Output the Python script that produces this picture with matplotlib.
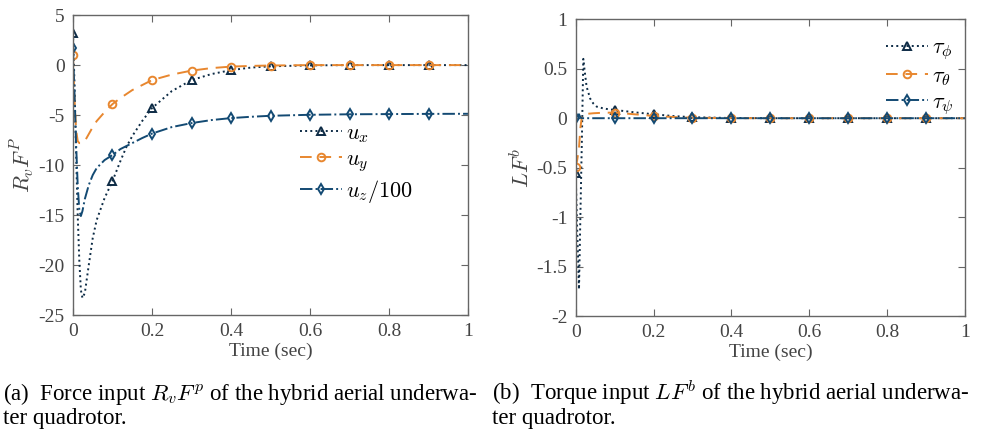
import matplotlib
matplotlib.use("Agg")
import matplotlib.pyplot as plt

plt.rcParams['font.family'] = ['Liberation Serif', 'DejaVu Serif']
plt.rcParams['mathtext.fontset'] = 'cm'
plt.rcParams['axes.unicode_minus'] = False

# (a) force input, time grid and series
t_f = [0, 0.004, 0.008, 0.012, 0.016, 0.02, 0.024, 0.03, 0.04, 0.05, 0.06, 0.08, 0.1,
       0.12, 0.135, 0.15, 0.175, 0.2, 0.25, 0.3, 0.35, 0.4, 0.45, 0.5, 0.6, 0.7, 0.8, 0.9, 1.0]
u_x = [3.2, -2.0, -9.0, -15.0, -19.5, -22.5, -23.3, -22.8, -20.0, -17.3, -15.5, -13.3, -11.6,
       -9.6, -8.2, -7.1, -5.6, -4.3, -2.6, -1.5, -0.9, -0.5, -0.25, -0.12, -0.03, 0, 0, 0, 0]
u_y = [1.0, -3.5, -6.5, -7.6, -7.8, -7.8, -7.8, -7.6, -6.9, -6.2, -5.6, -4.7, -3.9,
       -3.3, -2.9, -2.5, -2.0, -1.5, -0.95, -0.55, -0.3, -0.15, -0.08, -0.04, 0, 0, 0, 0, 0]
u_z = [1.7, -3.0, -8.0, -12.0, -14.5, -15.1, -14.6, -13.4, -12.0, -11.0, -10.3, -9.5, -9.0,
       -8.4, -8.1, -7.8, -7.3, -6.85, -6.2, -5.8, -5.5, -5.3, -5.17, -5.07, -4.97, -4.92, -4.9, -4.88, -4.87]

# (b) torque input
t_b = [0, 0.004, 0.0085, 0.012, 0.016, 0.0196, 0.023, 0.028, 0.037, 0.045, 0.054, 0.07, 0.085,
       0.1, 0.15, 0.2, 0.25, 0.3, 0.4, 0.5, 0.6, 0.7, 0.8, 0.9, 1.0]
tau_phi = [-0.555, -1.15, -1.73, -1.0, -0.2, 0.6, 0.48, 0.32, 0.2, 0.15, 0.117, 0.1, 0.09,
           0.084, 0.06, 0.04, 0.022, 0.01, 0.002, 0, 0, 0, 0, 0, 0]
tau_theta = [-0.49, -0.42, -0.3, -0.1, 0.02, 0.04, 0.042, 0.044, 0.047, 0.05, 0.052, 0.055, 0.056,
             0.057, 0.04, 0.023, 0.012, 0.005, 0.001, 0, 0, 0, 0, 0, 0]
tau_psi = [0, 0.02, 0.04, 0.01, 0, 0, 0, 0, 0, 0, 0, 0, 0,
           0, 0, 0, 0, 0, 0, 0, 0, 0, 0, 0, 0]

mark_t = [0, 0.1, 0.2, 0.3, 0.4, 0.5, 0.6, 0.7, 0.8, 0.9]

cap_a = ['(a)  Force input $R_vF^p$ of the hybrid aerial underwa-', 'ter quadrotor.']
cap_b = ['(b)  Torque input $LF^b$ of the hybrid aerial underwa-', 'ter quadrotor.']

navy = '#0d2b45'
orange = '#e8872f'
blue = '#134a73'
gray = '#444444'


def marks(t):
    return [i for i, v in enumerate(t) if any(abs(v - m) < 1e-9 for m in mark_t)]


def style_ax(ax):
    for s in ax.spines.values():
        s.set_color('#666666')
        s.set_linewidth(1.0)
    ax.tick_params(direction='in', top=True, right=True, colors='#666666',
                   labelcolor=gray, labelsize=14, length=5, pad=6)
    ax.set_xlim(0, 1)
    ax.set_xticks([0, 0.2, 0.4, 0.6, 0.8, 1])
    ax.set_xticklabels(['0', '0.2', '0.4', '0.6', '0.8', '1'])
    ax.set_xlabel('Time (sec)', fontsize=14, color=gray, labelpad=2)


fig = plt.figure(figsize=(9.9, 4.32), dpi=100)
ax1 = fig.add_axes([0.0737, 0.2708, 0.3993, 0.6942])
ax2 = fig.add_axes([0.5815, 0.2685, 0.3932, 0.6868])

mk = dict(markersize=5.5, markerfacecolor='none', markeredgewidth=1.4)
leg = dict(frameon=False, fontsize=16, handlelength=1.9, handletextpad=0.15,
           labelspacing=0.2, borderpad=0.2)
m1 = marks(t_f)
ax1.plot(t_f, u_x, ':', color=navy, lw=1.4, marker='^', markevery=m1, label='$u_x$', **mk)
ax1.plot(t_f, u_y, '--', color=orange, lw=1.4, marker='o', markevery=m1, label='$u_y$',
         dashes=(6, 4), **mk)
ax1.plot(t_f, u_z, '-.', color=blue, lw=1.4, marker='d', markevery=m1, label='$u_z/100$', **mk)
style_ax(ax1)
ax1.set_ylim(-25, 5)
ax1.set_yticks([-25, -20, -15, -10, -5, 0, 5])
ax1.set_ylabel('$R_vF^P$', fontsize=16, color=gray, labelpad=2)
ax1.legend(loc='upper left', bbox_to_anchor=(0.535, 0.69), **leg)

m2 = marks(t_b)
ax2.plot(t_b, tau_phi, ':', color=navy, lw=1.4, marker='^', markevery=m2, label=r'$\tau_\phi$', **mk)
ax2.plot(t_b, tau_theta, '--', color=orange, lw=1.4, marker='o', markevery=m2, label=r'$\tau_\theta$',
         dashes=(6, 4), **mk)
ax2.plot(t_b, tau_psi, '-.', color=blue, lw=1.4, marker='d', markevery=m2, label=r'$\tau_\psi$', **mk)
style_ax(ax2)
ax2.set_ylim(-2, 1)
ax2.set_yticks([-2, -1.5, -1, -0.5, 0, 0.5, 1])
ax2.set_yticklabels(['-2', '-1.5', '-1', '-0.5', '0', '0.5', '1'])
ax2.set_ylabel('$LF^b$', fontsize=16, color=gray, labelpad=2)
ax2.legend(loc='upper right', bbox_to_anchor=(1.01, 0.99), **leg)

for x0, lines in [(0.003, cap_a), (0.497, cap_b)]:
    for k, s in enumerate(lines):
        fig.text(x0, 0.075 - k * 0.056, s, fontsize=16.5, color='black',
                 va='baseline', ha='left')

fig.savefig('out.png', dpi=100)
